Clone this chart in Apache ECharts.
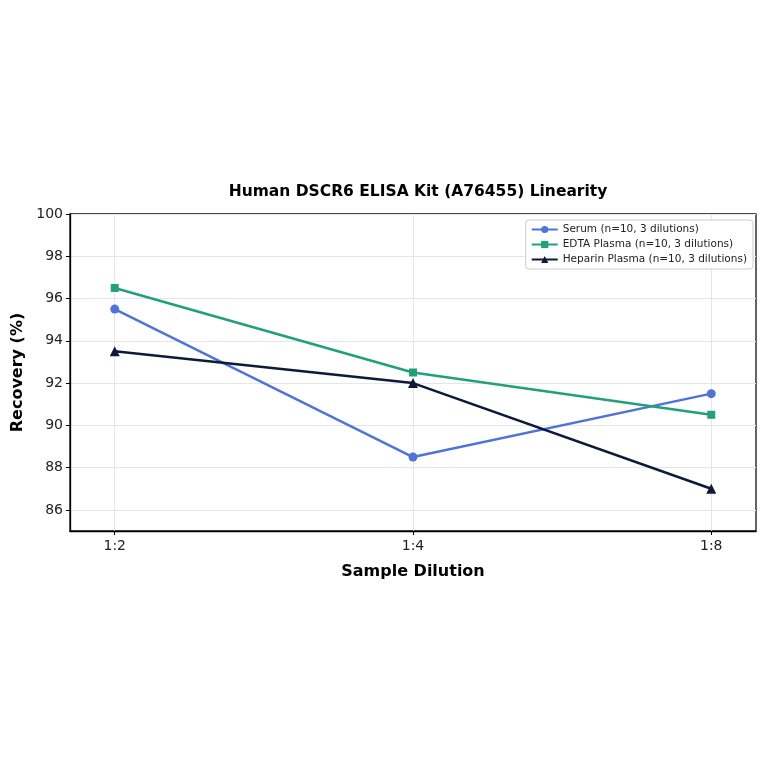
<!DOCTYPE html>
<html>
<head>
<meta charset="utf-8">
<script src="https://cdn.jsdelivr.net/npm/echarts@6/dist/echarts.min.js"></script>
<style>html,body{margin:0;padding:0;background:#fff}#c{width:764px;height:764px}</style>
</head>
<body>
<div id="c"></div>
<script>
var categories = ['1:2', '1:4', '1:8'];
var serum = [95.5, 88.5, 91.5];
var edta = [96.5, 92.5, 90.5];
var heparin = [93.5, 92.0, 87.0];
var yTicks = [86, 88, 90, 92, 94, 96, 98, 100];
var seriesNames = ['Serum (n=10, 3 dilutions)', 'EDTA Plasma (n=10, 3 dilutions)', 'Heparin Plasma (n=10, 3 dilutions)'];

function pts(arr) { return arr.map(function (v, i) { return [i, v]; }); }
var font = 'DejaVu Sans';
var chart = echarts.init(document.getElementById('c'), null, { renderer: 'canvas' });
var mk = function (name, data, color, symbol, size) {
  return {
    name: name, type: 'line', data: pts(data), symbol: symbol, symbolSize: size,
    lineStyle: { color: color, width: 2.5 }, itemStyle: { color: color }, z: 3
  };
};
chart.setOption({
  animation: false,
  backgroundColor: '#fff',
  textStyle: { fontFamily: font },
  title: {
    text: 'Human DSCR6 ELISA Kit (A76455) Linearity',
    left: 413, top: 179, textAlign: 'center',
    textStyle: { fontFamily: font, fontSize: 15.5, fontWeight: 'bold', color: '#000' }
  },
  grid: { left: 70, right: 8, top: 214, bottom: 233, containLabel: false, show: true, borderColor: '#111', borderWidth: 1.3 },
  legend: {
    orient: 'vertical', right: 11, top: 220,
    backgroundColor: '#fff', borderColor: '#ccc', borderWidth: 1, borderRadius: 3,
    padding: [4, 6, 4, 5], itemGap: 4, itemWidth: 26, itemHeight: 9,
    textStyle: { fontFamily: font, fontSize: 10.5, color: '#222' },
    data: seriesNames
  },
  xAxis: {
    type: 'value', min: -0.15, max: 2.15,
    name: 'Sample Dilution', nameLocation: 'middle', nameGap: 33,
    nameTextStyle: { fontFamily: font, fontSize: 16, fontWeight: 'bold', color: '#000' },
    axisLine: { show: true, onZero: false, lineStyle: { color: '#000', width: 1.3 } },
    axisTick: { show: true, customValues: [0, 1, 2], length: 4, lineStyle: { color: '#000' } },
    axisLabel: { customValues: [0, 1, 2], fontFamily: font, fontSize: 14, color: '#222', margin: 8,
      formatter: function (v) { return categories[Math.round(v)]; } },
    splitLine: { show: true, lineStyle: { color: '#e6e6e6', width: 1 } }
  },
  yAxis: {
    type: 'value', min: 85, max: 100,
    name: 'Recovery (%)', nameLocation: 'middle', nameGap: 43,
    nameTextStyle: { fontFamily: font, fontSize: 16, fontWeight: 'bold', color: '#000' },
    axisLine: { show: true, onZero: false, lineStyle: { color: '#000', width: 1.3 } },
    axisTick: { show: true, customValues: yTicks, length: 4, lineStyle: { color: '#000' } },
    axisLabel: { customValues: yTicks, fontFamily: font, fontSize: 14, color: '#222', margin: 7 },
    splitLine: { show: true, lineStyle: { color: '#e6e6e6', width: 1 } }
  },
  series: [
    mk(seriesNames[0], serum, '#4f73d9', 'circle', 9),
    mk(seriesNames[1], edta, '#21a07a', 'rect', 8),
    mk(seriesNames[2], heparin, '#0d1a3a', 'triangle', 10)
  ]
});
</script>
</body>
</html>
